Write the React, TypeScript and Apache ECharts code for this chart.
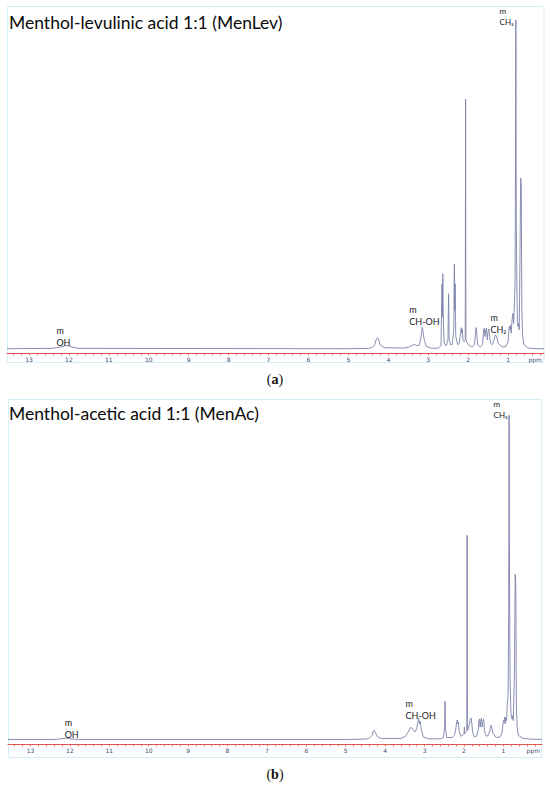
import React, { useEffect, useRef } from 'react';
import * as echarts from 'echarts';

// ---- data ----
const panelTitles = ['Menthol-levulinic acid 1:1 (MenLev)', 'Menthol-acetic acid 1:1 (MenAc)'];
const panelCaptions = ['a', 'b'];
const tickLabels = [13, 12, 11, 10, 9, 8, 7, 6, 5, 4, 3, 2, 1];

// [ppm, relative intensity]
const menLevSpectrum: number[][] = [
  [13.55, 0.3], [12.45, 0.4], [12.25, 0.7], [12.15, 1.0], [12.08, 1.3], [12.02, 1.2], [11.92, 0.8], [11.75, 0.4],
  [5.0, 0.3], [4.5, 0.4], [4.4, 0.7], [4.34, 1.5], [4.3, 3.2], [4.27, 3.6], [4.24, 3.0], [4.2, 1.4], [4.1, 0.6],
  [3.6, 0.5], [3.46, 0.9], [3.39, 1.4], [3.34, 1.6], [3.28, 1.2], [3.22, 1.4], [3.18, 4.0], [3.15, 6.7], [3.13, 5.5],
  [3.1, 3.0], [3.05, 1.0], [2.9, 0.4], [2.75, 0.5], [2.68, 1.2], [2.655, 20], [2.645, 10], [2.635, 23], [2.62, 8],
  [2.6, 2], [2.55, 1.2], [2.505, 3], [2.49, 17], [2.475, 3], [2.44, 1.5], [2.4, 1.5], [2.36, 6], [2.345, 26],
  [2.335, 12], [2.325, 20], [2.31, 4], [2.26, 1.5], [2.22, 2], [2.19, 5], [2.175, 6.7], [2.16, 5], [2.145, 6.2],
  [2.13, 3], [2.1, 2.5], [2.072, 3], [2.064, 76], [2.056, 3], [2.0, 1.5], [1.9, 0.8], [1.84, 1.5], [1.81, 6],
  [1.795, 6.7], [1.78, 4], [1.76, 1.5], [1.7, 0.8], [1.64, 1.5], [1.61, 6], [1.595, 6.5], [1.58, 4], [1.56, 6],
  [1.54, 6.6], [1.52, 3], [1.5, 5.5], [1.48, 6.3], [1.46, 4], [1.44, 2], [1.4, 1.5], [1.35, 3], [1.32, 4.5],
  [1.29, 4.2], [1.25, 2], [1.15, 0.8], [1.05, 1], [1.0, 2.5], [0.97, 7], [0.955, 6], [0.94, 7.5], [0.92, 5],
  [0.9, 9], [0.88, 11], [0.86, 8], [0.84, 14], [0.825, 20], [0.812, 60], [0.805, 100], [0.795, 40], [0.78, 20],
  [0.765, 8], [0.75, 7], [0.735, 8], [0.72, 6], [0.7, 30], [0.685, 52], [0.67, 50], [0.655, 12], [0.635, 4],
  [0.6, 1.5], [0.5, 0.5], [0.3, 0.3], [0.1, 0.3],
];

const menAcSpectrum: number[][] = [
  [13.57, 0.2], [12.4, 0.2], [12.2, 0.4], [12.1, 0.6], [12.0, 0.4], [11.8, 0.2], [5.0, 0.2], [4.5, 0.3],
  [4.4, 0.6], [4.33, 1.5], [4.3, 2.8], [4.28, 3.0], [4.25, 2.4], [4.2, 1.1], [4.1, 0.5], [3.6, 0.5], [3.48, 1.2],
  [3.4, 2.8], [3.35, 4], [3.3, 3.2], [3.24, 2.5], [3.2, 3.5], [3.17, 5.5], [3.15, 6.8], [3.13, 5], [3.11, 5.8],
  [3.08, 3], [3.03, 1], [2.9, 0.4], [2.6, 0.4], [2.52, 0.8], [2.49, 4], [2.48, 12], [2.47, 4], [2.44, 0.8],
  [2.3, 0.8], [2.24, 1.5], [2.2, 4], [2.185, 5.5], [2.17, 6.2], [2.155, 5], [2.14, 5.5], [2.12, 2.5], [2.08, 1.2],
  [2.03, 1.5], [2.0, 2], [1.99, 4], [1.98, 2], [1.95, 2.5], [1.928, 3], [1.92, 63], [1.912, 3], [1.89, 3.5],
  [1.86, 5], [1.84, 6.5], [1.82, 6.8], [1.8, 5], [1.78, 2.5], [1.74, 1], [1.68, 1.2], [1.64, 3], [1.62, 6],
  [1.605, 6.5], [1.59, 4], [1.57, 6.2], [1.555, 6.8], [1.54, 4], [1.52, 5.5], [1.5, 6.5], [1.48, 3], [1.45, 1.5],
  [1.4, 1.2], [1.35, 2.5], [1.32, 4.6], [1.3, 4.2], [1.26, 2], [1.18, 0.8], [1.08, 1], [1.03, 2.5], [1.0, 6],
  [0.985, 5.5], [0.97, 7], [0.955, 5], [0.94, 7], [0.92, 6], [0.9, 11], [0.88, 14], [0.865, 40], [0.855, 100],
  [0.845, 50], [0.83, 18], [0.81, 9], [0.795, 7], [0.78, 6.5], [0.765, 7.5], [0.75, 6], [0.72, 20], [0.7, 51],
  [0.685, 48], [0.67, 10], [0.65, 4], [0.62, 1.5], [0.5, 0.5], [0.3, 0.3], [0.02, 0.2],
];

// annotations: [ppm, intensity, text]
const menLevLabels: [number, number, string][] = [
  [12.3, 0.1, 'm\nOH'],
  [3.46, 6.7, 'm\nCH-OH'],
  [1.43, 4.2, 'm\nCH₂'],
  [1.2, 97.6, 'm\nCH₃'],
];
const menAcLabels: [number, number, string][] = [
  [12.12, -0.4, 'm\nOH'],
  [3.47, 5.6, 'm\nCH-OH'],
  [1.235, 98.2, 'm\nCH₃'],
];

const FONT = 'Lato, "Open Sans", sans-serif';
const LINE = '#7d82aa';
const RED = '#e5534e';
const BORDER = '#d3eef6';

function minorTicks(lo: number, hi: number): number[] {
  const out: number[] = [];
  for (let v = Math.ceil(lo * 5); v <= Math.floor(hi * 5); v++) out.push(v / 5);
  return out;
}

function makeX(gridIndex: number, min: number, max: number) {
  return {
    type: 'value', gridIndex, inverse: true, min, max,
    splitLine: { show: false },
    axisLine: { show: true, onZero: false, lineStyle: { color: RED, width: 1 } },
    axisTick: { show: true, customValues: minorTicks(min, max), length: 2.5, lineStyle: { color: RED, width: 0.8 } },
    axisLabel: {
      show: true, customValues: [...tickLabels, min + 0.22], margin: 3, fontSize: 6, color: '#3e4b6e',
      fontFamily: 'DejaVu Sans, sans-serif',
      formatter: (v: number) => (v < 0.6 ? 'ppm' : String(Math.round(v))),
    },
  };
}

function labelPoints(items: [number, number, string][], sizes: number[]) {
  return items.map(([x, y, t], i) => ({
    coord: [x, y], symbol: 'rect', symbolSize: 1, itemStyle: { color: 'rgba(0,0,0,0)' },
    label: {
      show: true, formatter: t, position: [0, 0], align: 'left', verticalAlign: 'bottom',
      fontFamily: FONT, fontSize: sizes[i], lineHeight: sizes[i] + 3, color: '#1a1a1a',
    },
  }));
}

export default function App() {
  const ref = useRef<HTMLDivElement>(null);
  useEffect(() => {
    if (!ref.current) return;
    const chart = echarts.init(ref.current, undefined, { renderer: 'svg' });
    const caption = (c: string, y: number) => ({
      type: 'text', left: 'center', top: y,
      style: {
        text: `{n|(}{b|${c}}{n|)}`, fill: '#111',
        rich: {
          n: { fontFamily: 'Liberation Serif, serif', fontSize: 14, fill: '#111' },
          b: { fontFamily: 'Liberation Serif, serif', fontSize: 14, fontWeight: 'bold', fill: '#111' },
        },
      },
    });
    chart.setOption({
      animation: false,
      grid: [
        { left: 7, right: 6, top: 13.4, height: 339.6 },
        { left: 8, right: 8, top: 408.6, height: 335.4 },
      ],
      xAxis: [makeX(0, 0.1, 13.55), makeX(1, 0.02, 13.57)],
      yAxis: [
        { type: 'value', gridIndex: 0, min: -1, max: 102, show: false },
        { type: 'value', gridIndex: 1, min: -1.2, max: 102, show: false },
      ],
      series: [
        {
          type: 'line', xAxisIndex: 0, yAxisIndex: 0, data: menLevSpectrum, showSymbol: false, symbol: 'none',
          lineStyle: { color: LINE, width: 0.9 }, silent: true,
          markPoint: { silent: true, data: labelPoints(menLevLabels, [9, 9, 9, 8]) },
        },
        {
          type: 'line', xAxisIndex: 1, yAxisIndex: 1, data: menAcSpectrum, showSymbol: false, symbol: 'none',
          lineStyle: { color: LINE, width: 0.9 }, silent: true,
          markPoint: { silent: true, data: labelPoints(menAcLabels, [9, 9, 8]) },
        },
      ],
      graphic: [
        { type: 'rect', shape: { x: 7.5, y: 6.5, width: 536.5, height: 356 }, style: { fill: 'none', stroke: BORDER, lineWidth: 1 }, silent: true },
        { type: 'rect', shape: { x: 8.5, y: 399.5, width: 533, height: 358 }, style: { fill: 'none', stroke: BORDER, lineWidth: 1 }, silent: true },
        { type: 'text', left: 9, top: 13, style: { text: panelTitles[0], fontFamily: FONT, fontSize: 17.5, fill: '#0a0a0a' } },
        { type: 'text', left: 9, top: 404, style: { text: panelTitles[1], fontFamily: FONT, fontSize: 17.5, fill: '#0a0a0a' } },
        caption(panelCaptions[0], 372),
        caption(panelCaptions[1], 767),
      ],
    });
    return () => chart.dispose();
  }, []);
  return <div ref={ref} style={{ position: 'absolute', left: 0, top: 0, width: 550, height: 786 }} />;
}
